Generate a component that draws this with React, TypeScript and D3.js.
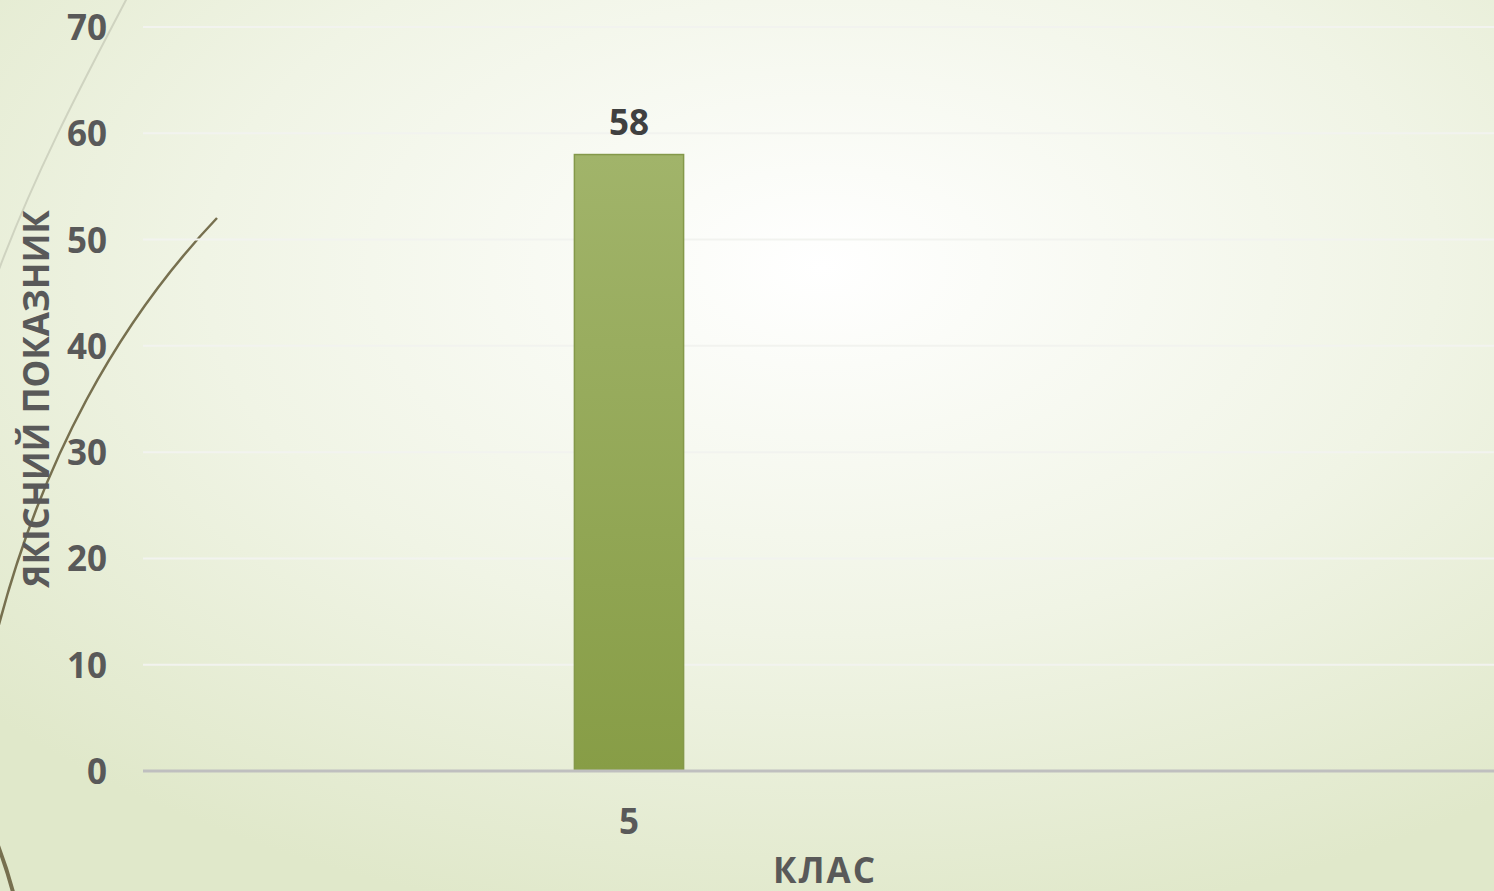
import React from "react";
import * as d3 from "d3";

const categories: string[] = ["5"];
const values: number[] = [58];
const yTicks: number[] = [0, 10, 20, 30, 40, 50, 60, 70];
const xTitle = "КЛАС";
const yTitle = "ЯКІСНИЙ ПОКАЗНИК";

const W = 1494;
const H = 891;
const FONT = "'Open Sans', 'DejaVu Sans', sans-serif";
const FS = 35;

export default function App() {
  const plotLeft = 143;
  const plotRight = 1494;
  const y = d3.scaleLinear().domain([0, 70]).range([771, 27]);
  const x = d3
    .scaleBand<string>()
    .domain(categories)
    .range([143, 1115])
    .paddingInner(0.798)
    .paddingOuter(0.798);

  const bigArc = d3.path();
  bigArc.moveTo(217, 218);
  bigArc.bezierCurveTo(120, 320, 40, 460, -5, 640);
  const bigArc2 = d3.path();
  bigArc2.moveTo(-3, 843);
  bigArc2.quadraticCurveTo(6, 866, 13, 892);
  const thinArc = d3.path();
  thinArc.moveTo(127, -2);
  thinArc.bezierCurveTo(95, 60, 40, 160, -2, 272);

  return (
    <svg
      width={W}
      height={H}
      style={{ position: "absolute", left: 0, top: 0, display: "block" }}
    >
      <defs>
        <radialGradient id="bg" cx="0.55" cy="0.3" r="0.75" fx="0.55" fy="0.3">
          <stop offset="0" stopColor="#ffffff" />
          <stop offset="0.55" stopColor="#f0f4e5" />
          <stop offset="1" stopColor="#e0e8ca" />
        </radialGradient>
        <linearGradient id="barGrad" x1="0" y1="0" x2="0" y2="1">
          <stop offset="0" stopColor="#a1b46a" />
          <stop offset="1" stopColor="#879d46" />
        </linearGradient>
      </defs>
      <rect x={0} y={0} width={W} height={H} fill="url(#bg)" />

      {/* decorative curves */}
      <path d={thinArc.toString()} fill="none" stroke="#cfd3c0" strokeWidth={2} />
      <path d={bigArc.toString()} fill="none" stroke="#77704f" strokeWidth={2.5} />
      <path d={bigArc2.toString()} fill="none" stroke="#77704f" strokeWidth={4} />

      {/* gridlines */}
      {yTicks.slice(1).map((t) => (
        <line
          key={t}
          x1={plotLeft}
          x2={plotRight}
          y1={y(t)}
          y2={y(t)}
          stroke="#f2f3ef"
          strokeWidth={2}
        />
      ))}

      {/* bars */}
      {categories.map((c, i) => (
        <g key={c}>
          <rect
            x={x(c)!}
            y={y(values[i])}
            width={x.bandwidth()}
            height={y(0) - y(values[i])}
            fill="url(#barGrad)"
            stroke="#84994a"
            strokeWidth={1.5}
          />
          <text
            x={x(c)! + x.bandwidth() / 2}
            y={y(values[i]) - 20}
            textAnchor="middle"
            fontFamily={FONT}
            fontWeight={700}
            fontSize={FS}
            fill="#404040"
          >
            {values[i]}
          </text>
          <text
            x={x(c)! + x.bandwidth() / 2}
            y={834}
            textAnchor="middle"
            fontFamily={FONT}
            fontWeight={700}
            fontSize={FS}
            fill="#595959"
          >
            {c}
          </text>
        </g>
      ))}

      {/* zero axis line */}
      <line x1={plotLeft} x2={plotRight} y1={y(0)} y2={y(0)} stroke="#bfbfbf" strokeWidth={3} />

      {/* y tick labels */}
      {yTicks.map((t) => (
        <text
          key={t}
          x={107}
          y={y(t) + 13}
          textAnchor="end"
          fontFamily={FONT}
          fontWeight={700}
          fontSize={FS}
          fill="#595959"
        >
          {t}
        </text>
      ))}

      {/* axis titles */}
      <text
        x={825}
        y={883}
        textAnchor="middle"
        fontFamily={FONT}
        fontWeight={700}
        fontSize={FS}
        letterSpacing={2}
        fill="#595959"
      >
        {xTitle}
      </text>
      <text
        transform={`translate(49, ${(y(0) + y(70)) / 2}) rotate(-90)`}
        textAnchor="middle"
        fontFamily={FONT}
        fontWeight={700}
        fontSize={FS}
        fill="#595959"
      >
        {yTitle}
      </text>
    </svg>
  );
}
